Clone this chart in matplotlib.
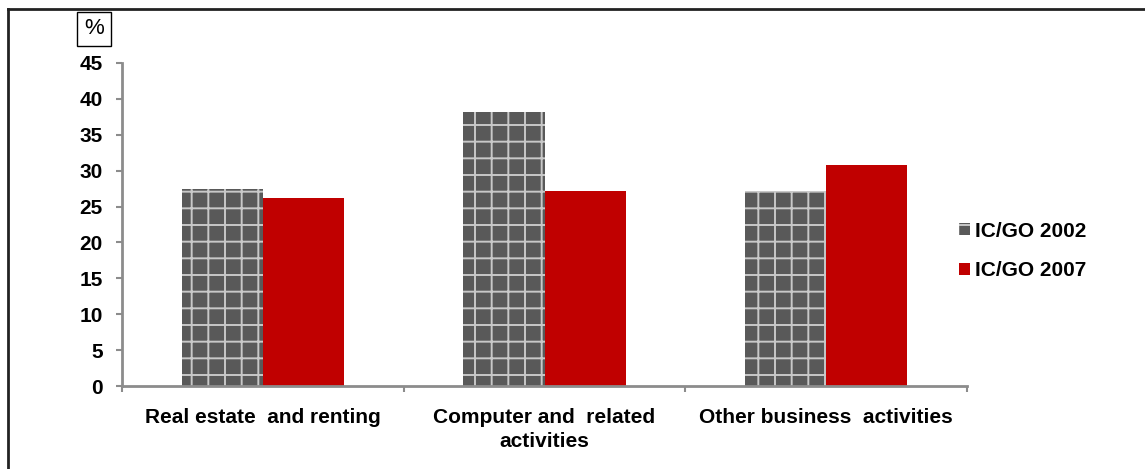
import numpy as np
import matplotlib
matplotlib.use('Agg')
import matplotlib.pyplot as plt
import matplotlib.lines as mlines

categories = ['Real estate  and renting', 'Computer and  related\nactivities', 'Other business  activities']
ic_go_2002 = [27.4, 38.2, 27.1]
ic_go_2007 = [26.2, 27.1, 30.8]
series_labels = ['IC/GO 2002', 'IC/GO 2007']
y_ticks = [0, 5, 10, 15, 20, 25, 30, 35, 40, 45]

gray = '#595959'
red = '#C00000'
axis_gray = '#8c8c8c'

plt.rcParams['font.family'] = ['Liberation Sans', 'DejaVu Sans']
plt.rcParams['hatch.linewidth'] = 1.4

fig = plt.figure(figsize=(11.45, 4.69), dpi=100)
ax = fig.add_axes([122 / 1145, 1 - 386 / 469, (967 - 122) / 1145, (386 - 63) / 469])

x = np.arange(len(categories))
width = 0.288
ax.bar(x - width / 2, ic_go_2002, width, color=gray, edgecolor='#c8c8c8', linewidth=0,
       hatch='+', label=series_labels[0])
ax.bar(x + width / 2, ic_go_2007, width, color=red, linewidth=0, label=series_labels[1])

ax.set_xlim(-0.5, len(categories) - 0.5)
ax.set_ylim(0, 45)
ax.set_yticks(y_ticks)
ax.set_xticks(x)
ax.set_xticklabels(categories, fontsize=15, fontweight='bold', linespacing=1.3)
ax.set_xticks(np.arange(len(categories) + 1) - 0.5, minor=True)
ax.tick_params(axis='x', which='major', length=0, pad=16)
ax.tick_params(axis='x', which='minor', length=4, width=1.5, color=axis_gray)
ax.tick_params(axis='y', length=4, width=1.5, color=axis_gray, pad=10, labelsize=15)
for lab in ax.get_yticklabels():
    lab.set_fontweight('bold')

for side in ['top', 'right']:
    ax.spines[side].set_visible(False)
for side in ['left', 'bottom']:
    ax.spines[side].set_color(axis_gray)
    ax.spines[side].set_linewidth(2)

# "%" unit box
fig.text(94 / 1145, 1 - 29 / 469, '%', fontsize=16, ha='center', va='center',
         bbox=dict(boxstyle='square,pad=0.3', facecolor='white', edgecolor='black', linewidth=1))

# legend on the right
fig.legend(loc='center left', bbox_to_anchor=(940 / 1145, 1 - 251 / 469), frameon=False,
           prop={'size': 15, 'weight': 'bold'}, handlelength=0.55, handleheight=0.55,
           handletextpad=0.25, labelspacing=1.0)

# outer frame (top and left edges only visible)
fig.add_artist(mlines.Line2D([8 / 1145, 1], [1 - 9 / 469, 1 - 9 / 469], color='#222222', linewidth=2))
fig.add_artist(mlines.Line2D([8 / 1145, 8 / 1145], [0, 1 - 9 / 469], color='#222222', linewidth=2))

fig.savefig('out.png', dpi=100)
